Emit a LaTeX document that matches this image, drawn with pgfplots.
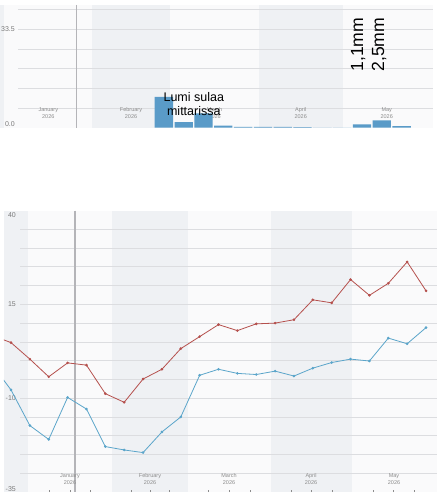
\documentclass[border=0pt]{standalone}
\usepackage{pgfplots}
\pgfplotsset{compat=1.18}
\usepackage{fontspec}
\setmainfont{Liberation Sans}
\definecolor{redc}{HTML}{B5504D}
\definecolor{bluec}{HTML}{5BA5CA}
\definecolor{barc}{HTML}{5A9BC8}
\definecolor{shadec}{HTML}{EFF1F4}
\definecolor{lightc}{HTML}{FAFAFB}
\definecolor{gridc}{HTML}{DCDDE0}
\definecolor{todayc}{HTML}{B4B4B8}
\definecolor{labelc}{HTML}{8C8C8C}
\definecolor{tickc}{HTML}{7A7A7A}

\pgfplotstableread{
d v
56.5 10.5
63.5 1.9
70.5 4.9
77.5 0.7
84.5 0.3
91.5 0.3
98.5 0.3
105.5 0.2
112.5 0
119.5 0
126.5 1.1
133.5 2.5
140.5 0.5
}\precip

\pgfplotstableread{
d v
-13 6.7
-6 4.8
1 0.4
8 -4.3
15 -0.6
22 -1.2
29 -8.8
36 -11.1
43 -4.9
50 -2.3
57 3.2
64 6.4
71 9.6
78 8.0
85 9.8
92 10.0
99 10.9
106 16.2
113 15.4
120 21.6
127 17.4
134 20.6
141 26.3
148 18.6
}\tmax

\pgfplotstableread{
d v
-13 -1.1
-6 -7.8
1 -17.3
8 -21.0
15 -9.8
22 -12.9
29 -22.9
36 -23.8
43 -24.5
50 -19.0
57 -15.0
64 -3.9
71 -2.3
78 -3.4
85 -3.7
92 -2.8
99 -4.1
106 -2.0
113 -0.5
120 0.4
127 -0.1
134 6.0
141 4.5
148 8.8
}\tmin

\begin{document}
\begin{tikzpicture}[x=1pt,y=1pt]
\fill[white] (0,0) rectangle (441,-500);
\useasboundingbox (0,0) rectangle (441,-500);

% ---------- top panel background ----------
\fill[shadec] (0,-5) rectangle (4,-127.7);
\fill[lightc] (4,-5) rectangle (91.7,-127.7);
\fill[shadec] (91.7,-5) rectangle (170,-127.7);
\fill[lightc] (170,-5) rectangle (259.3,-127.7);
\fill[shadec] (259.3,-5) rectangle (343.3,-127.7);
\fill[lightc] (343.3,-5) rectangle (433.3,-127.7);
\foreach \y in {9.6,29.29,48.97,68.65,88.34,108.0}
  \draw[gridc, line width=0.7pt] (18.3,-\y) -- (433.3,-\y);
\draw[todayc, line width=1.2pt] (76.3,-5) -- (76.3,-127.7);
\foreach \x/\m in {48.3/January,131/February,214.6/March,300.7/April,386.7/May}
  \node[font=\fontsize{5.5}{6.8}\selectfont, text=labelc, align=center, inner sep=0] at (\x,-113.2) {\m\\2026};
\node[anchor=east, inner sep=0, font=\fontsize{7}{8}\selectfont, text=tickc] at (15,-29.3) {33.5};
\node[anchor=east, inner sep=0, font=\fontsize{7}{8}\selectfont, text=tickc] at (15,-124) {0.0};

% ---------- bottom panel background ----------
\fill[shadec] (4,-210.5) rectangle (28,-492);
\fill[lightc] (28,-210.5) rectangle (112,-492);
\fill[shadec] (112,-210.5) rectangle (188,-492);
\fill[lightc] (188,-210.5) rectangle (271,-492);
\fill[shadec] (271,-210.5) rectangle (352,-492);
\fill[lightc] (352,-210.5) rectangle (437,-492);
\foreach \v in {-30,-25,...,35}
  \draw[gridc, line width=0.7pt] (20,{-(210.5+(40-\v)*3.753)}) -- (437,{-(210.5+(40-\v)*3.753)});
\draw[todayc, line width=1.2pt] (75,-210.5) -- (75,-492);
\foreach \x/\m in {70/January,150/February,229/March,311/April,394/May}
  \node[font=\fontsize{5.5}{6.8}\selectfont, text=labelc, align=center, inner sep=0] at (\x,-479) {\m\\2026};
\foreach \x in {49.3,70,90.7,131,150,169,208,229,250,291,311.7,332,373,393,414}
  \draw[labelc, line width=0.5pt] (\x,-492) -- (\x,-489.5);
\foreach \y/\t in {215/40,304.3/15,398.3/-10,489/-35}
  \node[anchor=east, inner sep=0, font=\fontsize{7}{8}\selectfont, text=tickc] at (16,-\y) {\t};

% ---------- top axis: precipitation ----------
\begin{axis}[at={(0pt,-5pt)}, anchor=north west, scale only axis,
  width=433.3pt, height=122.7pt,
  xmin=-1.413, xmax=151.7, ymin=0, ymax=41.77,
  hide axis, ybar, bar width=6.47]
\addplot[fill=barc, draw=none] table[x=d, y=v] {\precip};
\end{axis}

% ---------- bottom axis: temperatures ----------
\begin{axis}[at={(4pt,-210.5pt)}, anchor=north west, scale only axis,
  width=433pt, height=281.5pt,
  xmin=-8.6, xmax=152.07, ymin=-35, ymax=40, hide axis]
\addplot[redc, line width=0.8pt, mark=*, mark size=0.9pt, mark options={fill=redc, draw=redc}] table[x=d, y=v] {\tmax};
\addplot[bluec, line width=0.8pt, mark=*, mark size=0.9pt, mark options={fill=bluec, draw=bluec}] table[x=d, y=v] {\tmin};
\end{axis}

% ---------- annotations ----------
\node[anchor=base, inner sep=0, font=\fontsize{12.5}{14}\selectfont] at (193.8,-101.5) {Lumi sulaa};
\node[anchor=base, inner sep=0, font=\fontsize{12.5}{14}\selectfont] at (193.8,-115.5) {mittarissa};
\node[rotate=90, anchor=base west, inner sep=0, font=\fontsize{17.6}{20}\selectfont] at (363.2,-71.7) {1,1mm};
\node[rotate=90, anchor=base west, inner sep=0, font=\fontsize{17.6}{20}\selectfont] at (384.2,-71.7) {2,5mm};
\end{tikzpicture}
\end{document}
